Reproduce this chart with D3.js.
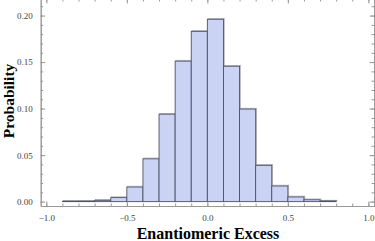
<!DOCTYPE html>
<html>
<head>
<meta charset="utf-8">
<script src="https://cdn.jsdelivr.net/npm/d3@7"></script>
<style>
	body { margin: 0; background: #fff; }
	svg { display: block; }
	.tick text { font-family: "Liberation Serif", serif; font-size: 9px; fill: #444; }
</style>
</head>
<body>
<div id="chart"></div>
<script>
// histogram bins (left edges, width 0.1) and probabilities
const binStarts = [-0.9, -0.8, -0.7, -0.6, -0.5, -0.4, -0.3, -0.2, -0.1, 0.0, 0.1, 0.2, 0.3, 0.4, 0.5, 0.6, 0.7];
const probs = [0.0003, 0.0004, 0.0014, 0.0043, 0.0157, 0.046, 0.094, 0.151, 0.183, 0.196, 0.1455, 0.0995, 0.039, 0.0168, 0.005, 0.002, 0.0006];
const binWidth = 0.1;
const xTicks = [-1.0, -0.5, 0.0, 0.5, 1.0];
const yTicks = [0.00, 0.05, 0.10, 0.15, 0.20];

const width = 375, height = 241;
const mLeft = 40.7, mRight = 374, mTop = -1, mBottom = 206;

const svg = d3.select('#chart').append('svg')
	.attr('width', width)
	.attr('height', height);

const x = d3.scaleLinear().domain([-1.035, 1.035]).range([mLeft, mRight]);
const y = d3.scaleLinear().domain([-0.0047, 0.2178]).range([mBottom, mTop]);

const data = binStarts.map((b, i) => ({ x0: b, x1: b + binWidth, p: probs[i] }));

// bars, with a faint shadow like the original
const bars = svg.append('g');
bars.selectAll('rect.shadow')
	.data(data)
	.enter().append('rect')
	.attr('class', 'shadow')
	.attr('x', d => x(d.x0) + 0.8)
	.attr('y', d => y(d.p) - 0.8)
	.attr('width', d => x(d.x1) - x(d.x0))
	.attr('height', d => y(0) - y(d.p))
	.attr('fill', 'none')
	.attr('stroke', '#aaa')
	.attr('stroke-width', 0.8);
bars.selectAll('rect.bar')
	.data(data)
	.enter().append('rect')
	.attr('class', 'bar')
	.attr('x', d => x(d.x0))
	.attr('y', d => y(d.p))
	.attr('width', d => x(d.x1) - x(d.x0))
	.attr('height', d => y(0) - y(d.p))
	.attr('fill', '#cbd3f4')
	.attr('stroke', '#4d5168')
	.attr('stroke-width', 0.9);

const fmtX = d => d3.format('.1f')(d).replace('-', '\u2212');
const fmtY = d3.format('.2f');
const xMinor = d3.range(-10, 11).map(d => d / 10);
const yMinor = d3.range(0, 22).map(d => d / 100);

const styleAxis = g => {
	g.select('.domain').attr('stroke', '#999');
	g.selectAll('.tick line').attr('stroke', '#999');
};

// minor ticks (inward), all four sides
const minor = (axis, tr) => svg.append('g')
	.attr('transform', tr)
	.call(axis)
	.call(g => g.selectAll('text').remove())
	.call(styleAxis);

minor(d3.axisBottom(x).tickValues(xMinor).tickSizeInner(-2.5).tickSizeOuter(0), `translate(0,${mBottom})`);
minor(d3.axisTop(x).tickValues(xMinor).tickSizeInner(-2.5).tickSizeOuter(0), `translate(0,${mTop})`);
minor(d3.axisLeft(y).tickValues(yMinor).tickSizeInner(-2.5).tickSizeOuter(0), `translate(${mLeft},0)`);
minor(d3.axisRight(y).tickValues(yMinor).tickSizeInner(-2.5).tickSizeOuter(0), `translate(${mRight},0)`);

// major ticks with labels
svg.append('g')
	.attr('transform', `translate(0,${mBottom})`)
	.call(d3.axisBottom(x).tickValues(xTicks).tickFormat(fmtX).tickSizeInner(-4.5).tickSizeOuter(0).tickPadding(9))
	.call(styleAxis);
svg.append('g')
	.attr('transform', `translate(0,${mTop})`)
	.call(d3.axisTop(x).tickValues(xTicks).tickSizeInner(-4.5).tickSizeOuter(0))
	.call(g => g.selectAll('text').remove())
	.call(styleAxis);
svg.append('g')
	.attr('transform', `translate(${mLeft},0)`)
	.call(d3.axisLeft(y).tickValues(yTicks).tickFormat(fmtY).tickSizeInner(-4.5).tickSizeOuter(0).tickPadding(8))
	.call(styleAxis);
svg.append('g')
	.attr('transform', `translate(${mRight},0)`)
	.call(d3.axisRight(y).tickValues(yTicks).tickSizeInner(-4.5).tickSizeOuter(0))
	.call(g => g.selectAll('text').remove())
	.call(styleAxis);

// axis titles
svg.append('text')
	.attr('x', 208)
	.attr('y', 239)
	.attr('text-anchor', 'middle')
	.style('font-family', '"Liberation Serif", serif')
	.style('font-weight', 'bold')
	.style('font-size', '16px')
	.text('Enantiomeric Excess');
svg.append('text')
	.attr('transform', `translate(14,101) rotate(-90)`)
	.attr('text-anchor', 'middle')
	.style('font-family', '"Liberation Serif", serif')
	.style('font-weight', 'bold')
	.style('font-size', '15.5px')
	.text('Probability');
</script>
</body>
</html>
